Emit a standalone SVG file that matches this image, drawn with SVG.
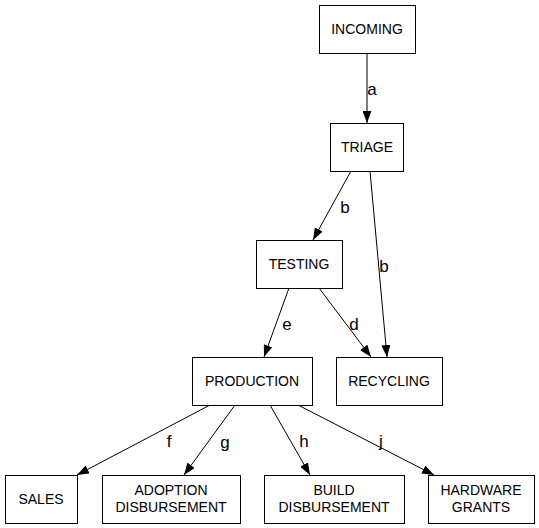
<svg xmlns="http://www.w3.org/2000/svg" width="539" height="528" viewBox="0 0 539 528">
<style>
.n rect{fill:#fff;stroke:#000;stroke-width:1}
.n text{font-family:"Liberation Sans",Arial,sans-serif;font-size:14px;text-anchor:middle;fill:#000}
.e line{stroke:#000;stroke-width:1;fill:none}
.e text{font-family:"Liberation Sans",Arial,sans-serif;font-size:17px;text-anchor:middle;fill:#000}
</style>
<defs>
<marker id="ah" viewBox="0 0 12 9" refX="12" refY="4.5" markerWidth="12" markerHeight="9" markerUnits="userSpaceOnUse" orient="auto">
<path d="M0,0 L12,4.5 L0,9 Z" fill="#000"/>
</marker>
</defs>
<rect width="539" height="528" fill="#fff"/>
<g class="e">
<line x1="367" y1="53" x2="367" y2="123" marker-end="url(#ah)"/>
<text x="372" y="95">a</text>
<line x1="351" y1="171" x2="313" y2="240" marker-end="url(#ah)"/>
<text x="345" y="213">b</text>
<line x1="370" y1="171" x2="387" y2="357" marker-end="url(#ah)"/>
<text x="384" y="272">b</text>
<line x1="289" y1="288" x2="264" y2="357" marker-end="url(#ah)"/>
<text x="287" y="330">e</text>
<line x1="319" y1="288" x2="371" y2="357" marker-end="url(#ah)"/>
<text x="354" y="330">d</text>
<line x1="210" y1="405" x2="77" y2="475" marker-end="url(#ah)"/>
<text x="169" y="447">f</text>
<line x1="235" y1="405" x2="184" y2="475" marker-end="url(#ah)"/>
<text x="225" y="448">g</text>
<line x1="270" y1="405" x2="310" y2="475" marker-end="url(#ah)"/>
<text x="304" y="447">h</text>
<line x1="298" y1="405" x2="434" y2="475" marker-end="url(#ah)"/>
<text x="381" y="447">j</text>
</g>
<g id="incoming" class="n"><rect x="319.5" y="5.5" width="96" height="48"/><text x="367" y="34">INCOMING</text></g>
<g id="triage" class="n"><rect x="330.5" y="123.5" width="73" height="48"/><text x="367" y="152">TRIAGE</text></g>
<g id="testing" class="n"><rect x="256.5" y="240.5" width="86" height="48"/><text x="299" y="269">TESTING</text></g>
<g id="production" class="n"><rect x="192.5" y="357.5" width="120" height="48"/><text x="252" y="386">PRODUCTION</text></g>
<g id="recycling" class="n"><rect x="336.5" y="357.5" width="106" height="48"/><text x="389" y="386">RECYCLING</text></g>
<g id="sales" class="n"><rect x="5.5" y="475.5" width="72" height="48"/><text x="41" y="504">SALES</text></g>
<g id="adoption" class="n"><rect x="102.5" y="475.5" width="138" height="48"/><text x="171" y="495">ADOPTION</text><text x="171" y="512">DISBURSEMENT</text></g>
<g id="build" class="n"><rect x="264.5" y="475.5" width="140" height="48"/><text x="334" y="495">BUILD</text><text x="334" y="512">DISBURSEMENT</text></g>
<g id="hardware" class="n"><rect x="428.5" y="475.5" width="106" height="48"/><text x="481" y="495">HARDWARE</text><text x="481" y="512">GRANTS</text></g>
</svg>
